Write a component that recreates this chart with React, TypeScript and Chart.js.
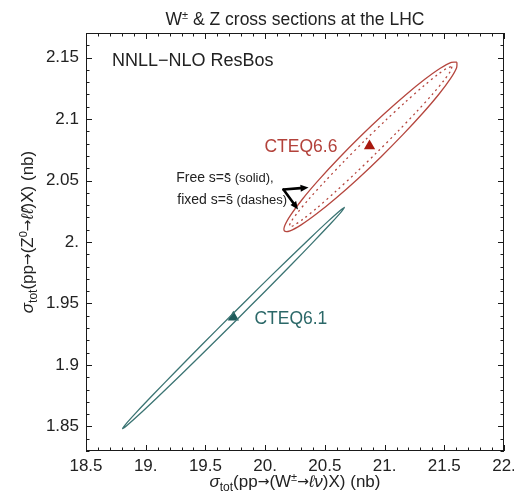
import React, { useEffect, useRef } from "react";
import { Chart, registerables } from "chart.js";

Chart.register(...registerables);

// ---------- data ----------
const xTickValues = [18.5, 19, 19.5, 20, 20.5, 21, 21.5, 22];
const xTickLabels = ["18.5", "19.", "19.5", "20.", "20.5", "21.", "21.5", "22."];
const yTickValues = [1.85, 1.9, 1.95, 2.0, 2.05, 2.1, 2.15];
const yTickLabels = ["1.85", "1.9", "1.95", "2.", "2.05", "2.1", "2.15"];
const xMin = 18.5;
const xMax = 22;
const yMin = 1.83;
const yMax = 2.17;

// central predictions (triangles)
const cteq66Central = [{ x: 20.874, y: 2.078 }];
const cteq61Central = [{ x: 19.734, y: 1.9388 }];

// CTEQ6.6 contour, free s = sbar (solid)
const cteq66FreeX = [21.6058, 21.6033, 21.5517, 21.4547, 21.3189, 21.1532, 20.9693, 20.7796, 20.597, 20.4339, 20.3015, 20.2089, 20.1622, 20.1647, 20.2163, 20.3133, 20.4491, 20.6148, 20.7987, 20.9884, 21.171, 21.3341, 21.4665, 21.5591, 21.6058];
const cteq66FreeY = [2.1463, 2.1418, 2.1329, 2.1202, 2.1047, 2.0873, 2.0692, 2.0517, 2.036, 2.0231, 2.0139, 2.0091, 2.0089, 2.0134, 2.0223, 2.035, 2.0505, 2.0679, 2.086, 2.1035, 2.1192, 2.1321, 2.1413, 2.1461, 2.1463];

// CTEQ6.6 contour, fixed s = sbar (dashes)
const cteq66FixedX = [21.5639, 21.5537, 21.4979, 21.4002, 21.2673, 21.1084, 20.9341, 20.7564, 20.5874, 20.4386, 20.3202, 20.2403, 20.2041, 20.2143, 20.2701, 20.3678, 20.5007, 20.6596, 20.8339, 21.0116, 21.1806, 21.3294, 21.4478, 21.5277, 21.5639];
const cteq66FixedY = [2.1426, 2.1392, 2.1315, 2.1201, 2.1059, 2.0897, 2.0727, 2.056, 2.0408, 2.0281, 2.0188, 2.0135, 2.0126, 2.016, 2.0237, 2.0351, 2.0493, 2.0655, 2.0825, 2.0992, 2.1144, 2.1271, 2.1364, 2.1417, 2.1426];

// CTEQ6.1 contour
const cteq61X = [20.6655, 20.6392, 20.5513, 20.4078, 20.2185, 19.9963, 19.7563, 19.5149, 19.2885, 19.0926, 18.9405, 18.8426, 18.8055, 18.8318, 18.9197, 19.0632, 19.2525, 19.4747, 19.7147, 19.9561, 20.1825, 20.3784, 20.5305, 20.6284, 20.6655];
const cteq61Y = [2.0283, 2.0247, 2.0152, 2.0005, 1.9815, 1.9596, 1.9362, 1.9129, 1.8914, 1.8731, 1.8592, 1.8507, 1.8481, 1.8517, 1.8612, 1.8759, 1.8949, 1.9168, 1.9402, 1.9635, 1.985, 2.0033, 2.0172, 2.0257, 2.0283];

// annotation anchors (data coordinates)
const arrowStart = { x: 20.1535, y: 2.0427 };
const arrowTips = [
  { x: 20.3633, y: 2.0443 },
  { x: 20.2752, y: 2.0264 },
];

// ---------- styles ----------
const FONT = "'Liberation Sans', Arial, Helvetica, sans-serif";
const ARROW_FONT = "'DejaVu Sans', 'Liberation Sans', sans-serif";
const RED_LINE = "#b5463e";
const RED_MARK = "#a8190f";
const RED_TEXT = "#b3423b";
const TEAL_LINE = "#3b7473";
const TEAL_MARK = "#1e5b5b";
const TEAL_TEXT = "#2b6868";
const TEXT = "#222";

type Seg = { t: string; size: number; dy?: number; italic?: boolean; family?: string };

function setFont(ctx: CanvasRenderingContext2D, s: Seg) {
  ctx.font = `${s.italic ? "italic " : ""}${s.size}px ${s.family || FONT}`;
}

function richWidth(ctx: CanvasRenderingContext2D, segs: Seg[]) {
  let w = 0;
  for (const s of segs) {
    setFont(ctx, s);
    w += ctx.measureText(s.t).width;
  }
  return w;
}

function drawRich(
  ctx: CanvasRenderingContext2D,
  segs: Seg[],
  x: number,
  y: number,
  align: "left" | "center",
  color: string
) {
  const total = richWidth(ctx, segs);
  let cx = align === "center" ? x - total / 2 : x;
  ctx.fillStyle = color;
  ctx.textAlign = "left";
  ctx.textBaseline = "alphabetic";
  for (const s of segs) {
    setFont(ctx, s);
    ctx.fillText(s.t, cx, y + (s.dy || 0));
    cx += ctx.measureText(s.t).width;
  }
}

function toPts(xs: number[], ys: number[]) {
  return xs.map((x, i) => ({ x, y: ys[i] }));
}

const framePlugin = {
  id: "framePlugin",
  afterDraw(chart: any) {
    const ctx: CanvasRenderingContext2D = chart.ctx;
    const { left, right, top, bottom } = chart.chartArea;
    const xs = chart.scales.x;
    const ys = chart.scales.y;
    ctx.save();

    // frame
    ctx.strokeStyle = "#1a1a1a";
    ctx.lineWidth = 1;
    ctx.strokeRect(left + 0.5, top + 0.5, right - left - 1, bottom - top - 1);

    // inward ticks
    ctx.beginPath();
    for (let i = 0; i <= 35; i++) {
      const v = xMin + i * 0.1;
      const px = Math.round(xs.getPixelForValue(v)) + 0.5;
      const len = i % 5 === 0 ? 6 : 3.5;
      ctx.moveTo(px, bottom);
      ctx.lineTo(px, bottom - len);
      ctx.moveTo(px, top);
      ctx.lineTo(px, top + len);
    }
    for (let i = 0; i <= 34; i++) {
      const v = yMin + i * 0.01;
      const py = Math.round(ys.getPixelForValue(v)) + 0.5;
      const major = Math.abs(v * 20 - Math.round(v * 20)) < 1e-6;
      const len = major ? 6 : 3.5;
      ctx.moveTo(left, py);
      ctx.lineTo(left + len, py);
      ctx.moveTo(right, py);
      ctx.lineTo(right - len, py);
    }
    ctx.stroke();

    // title
    drawRich(
      ctx,
      [
        { t: "W", size: 17.5 },
        { t: "±", size: 11, dy: -6 },
        { t: " & Z cross sections at the LHC", size: 17.5 },
      ],
      (left + right) / 2,
      25,
      "center",
      TEXT
    );

    // x axis title
    drawRich(
      ctx,
      [
        { t: "σ", size: 17, italic: true },
        { t: "tot", size: 12, dy: 4 },
        { t: "(pp", size: 17 },
        { t: "→", size: 14, family: ARROW_FONT, dy: -1 },
        { t: "(W", size: 17 },
        { t: "±", size: 11, dy: -6 },
        { t: "→", size: 14, family: ARROW_FONT, dy: -1 },
        { t: "ℓν", size: 17, italic: true },
        { t: ")X) (nb)", size: 17 },
      ],
      (left + right) / 2,
      487,
      "center",
      TEXT
    );

    // y axis title
    ctx.save();
    ctx.translate(33, 232);
    ctx.rotate(-Math.PI / 2);
    drawRich(
      ctx,
      [
        { t: "σ", size: 17, italic: true },
        { t: "tot", size: 12, dy: 4 },
        { t: "(pp", size: 17 },
        { t: "→", size: 14, family: ARROW_FONT, dy: -1 },
        { t: "(Z", size: 17 },
        { t: "0", size: 11, dy: -6 },
        { t: "→", size: 14, family: ARROW_FONT, dy: -1 },
        { t: "ℓℓ\u0304", size: 17, italic: true },
        { t: ")X) (nb)", size: 17 },
      ],
      0,
      0,
      "center",
      TEXT
    );
    ctx.restore();

    // in-plot labels
    const P = (x: number, y: number) => [xs.getPixelForValue(x), ys.getPixelForValue(y)];
    let [lx, ly] = P(18.718, 2.1435);
    drawRich(ctx, [{ t: "NNLL−NLO ResBos", size: 18 }], lx, ly, "left", TEXT);
    [lx, ly] = P(19.994, 2.0728);
    drawRich(ctx, [{ t: "CTEQ6.6", size: 17.5 }], lx, ly, "left", RED_TEXT);
    [lx, ly] = P(19.91, 1.9337);
    drawRich(ctx, [{ t: "CTEQ6.1", size: 17.5 }], lx, ly, "left", TEAL_TEXT);
    [lx, ly] = P(19.255, 2.0484);
    drawRich(
      ctx,
      [
        { t: "Free s=s\u0304", size: 14 },
        { t: " (solid),", size: 13 },
      ],
      lx,
      ly,
      "left",
      TEXT
    );
    [lx, ly] = P(19.264, 2.0313);
    drawRich(
      ctx,
      [
        { t: "fixed s=s\u0304", size: 14 },
        { t: " (dashes)", size: 13 },
      ],
      lx,
      ly,
      "left",
      TEXT
    );

    // arrows
    const [sx, sy] = P(arrowStart.x, arrowStart.y);
    ctx.strokeStyle = "#000";
    ctx.fillStyle = "#000";
    ctx.lineWidth = 2.6;
    ctx.lineCap = "round";
    for (const tip of arrowTips) {
      const [tx, ty] = P(tip.x, tip.y);
      const ang = Math.atan2(ty - sy, tx - sx);
      const hl = 8;
      const hw = 3.5;
      const bx = tx - hl * Math.cos(ang);
      const by = ty - hl * Math.sin(ang);
      ctx.beginPath();
      ctx.moveTo(sx, sy);
      ctx.lineTo(bx, by);
      ctx.stroke();
      ctx.beginPath();
      ctx.moveTo(tx, ty);
      ctx.lineTo(bx + hw * Math.sin(ang), by - hw * Math.cos(ang));
      ctx.lineTo(bx - hw * Math.sin(ang), by + hw * Math.cos(ang));
      ctx.closePath();
      ctx.fill();
    }

    ctx.restore();
  },
};

export default function App() {
  const ref = useRef<HTMLCanvasElement | null>(null);

  useEffect(() => {
    if (!ref.current) return;
    const chart = new Chart(ref.current, {
      type: "scatter",
      data: {
        datasets: [
          {
            label: "CTEQ6.1",
            data: toPts(cteq61X, cteq61Y),
            showLine: true,
            borderColor: TEAL_LINE,
            borderWidth: 1.3,
            pointRadius: 0,
            tension: 0.3,
            fill: false,
          },
          {
            label: "CTEQ6.6 free",
            data: toPts(cteq66FreeX, cteq66FreeY),
            showLine: true,
            borderColor: RED_LINE,
            borderWidth: 1.3,
            pointRadius: 0,
            tension: 0.3,
            fill: false,
          },
          {
            label: "CTEQ6.6 fixed",
            data: toPts(cteq66FixedX, cteq66FixedY),
            showLine: true,
            borderColor: RED_LINE,
            borderWidth: 1.3,
            borderDash: [2, 3.5],
            pointRadius: 0,
            tension: 0.3,
            fill: false,
          },
          {
            label: "CTEQ6.6 central",
            data: cteq66Central,
            pointStyle: "triangle",
            pointRadius: 6.5,
            backgroundColor: RED_MARK,
            borderColor: RED_MARK,
            borderWidth: 0,
          },
          {
            label: "CTEQ6.1 central",
            data: cteq61Central,
            pointStyle: "triangle",
            pointRadius: 6.5,
            backgroundColor: TEAL_MARK,
            borderColor: TEAL_MARK,
            borderWidth: 0,
          },
        ],
      },
      options: {
        responsive: false,
        animation: false,
        devicePixelRatio: 1,
        layout: { padding: { top: 33, right: 10, left: 0, bottom: 0 } },
        plugins: {
          legend: { display: false },
          title: { display: false },
          tooltip: { enabled: false },
        },
        scales: {
          x: {
            type: "linear",
            min: xMin,
            max: xMax,
            grid: { display: false, drawTicks: false },
            border: { display: false },
            afterBuildTicks: (s: any) => {
              s.ticks = xTickValues.map((v) => ({ value: v }));
            },
            afterFit: (s: any) => {
              s.height = 43;
              s.paddingLeft = 0;
              s.paddingRight = 0;
            },
            ticks: {
              autoSkip: false,
              maxRotation: 0,
              padding: 5,
              color: TEXT,
              font: { family: FONT, size: 17 },
              callback: (_v: any, i: number) => xTickLabels[i],
            },
          },
          y: {
            type: "linear",
            min: yMin,
            max: yMax,
            grid: { display: false, drawTicks: false },
            border: { display: false },
            afterBuildTicks: (s: any) => {
              s.ticks = yTickValues.map((v) => ({ value: v }));
            },
            afterFit: (s: any) => {
              s.width = 86;
              s.paddingTop = 0;
              s.paddingBottom = 0;
            },
            ticks: {
              autoSkip: false,
              padding: 7,
              color: TEXT,
              font: { family: FONT, size: 17 },
              callback: (_v: any, i: number) => yTickLabels[i],
            },
          },
        },
      },
      plugins: [framePlugin],
    });
    return () => chart.destroy();
  }, []);

  return (
    <div style={{ position: "fixed", left: 0, top: 0, width: 514, height: 494, background: "#fff" }}>
      <canvas ref={ref} width={514} height={494} />
    </div>
  );
}
